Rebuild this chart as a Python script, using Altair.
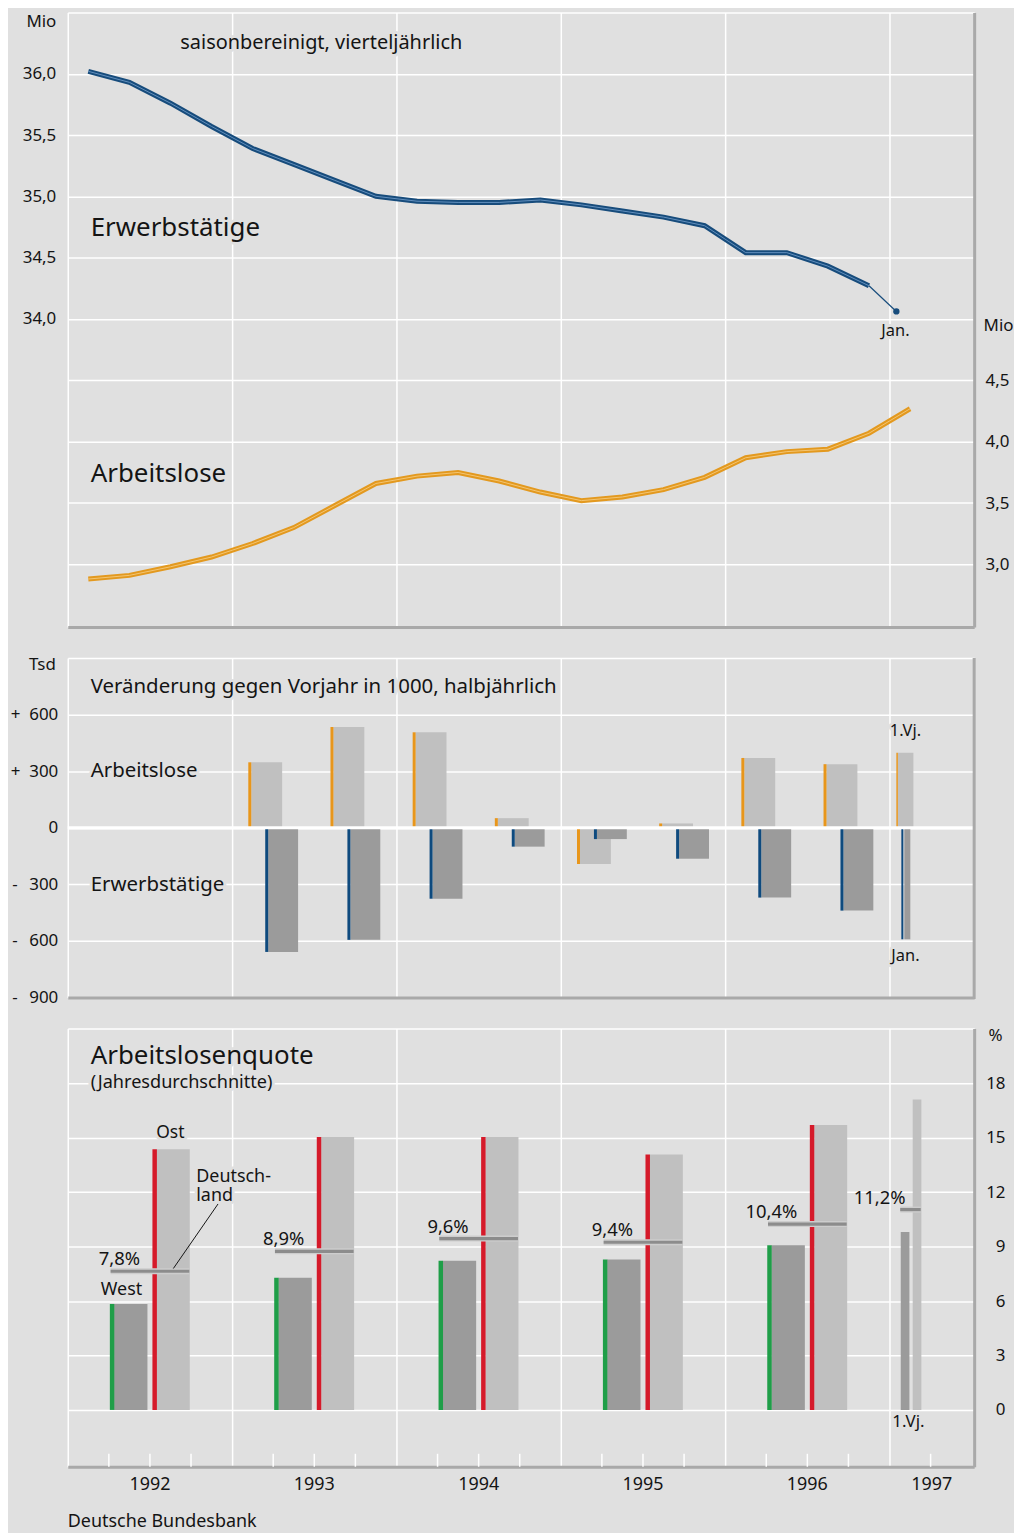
import altair as alt
import pandas as pd

# ---------------- colours / fonts ----------------
BG = "#e0e0e0"
FRAME = "#a9a9a9"
INK = "#141414"
FONT = "Noto Sans"
BLUE_D = "#174c7c"
BLUE_L = "#6390be"
ORANGE_D = "#e3991f"
ORANGE_L = "#f3c674"
LIGHT_BAR = "#c0c0c0"
DARK_BAR = "#9b9b9b"
STRIP_ORANGE = "#e8961b"
STRIP_BLUE = "#0e4a7e"
GREEN = "#1f9e48"
RED = "#d51a2a"

# ---------------- data ----------------
quarters = ["1992-Q1", "1992-Q2", "1992-Q3", "1992-Q4",
            "1993-Q1", "1993-Q2", "1993-Q3", "1993-Q4",
            "1994-Q1", "1994-Q2", "1994-Q3", "1994-Q4",
            "1995-Q1", "1995-Q2", "1995-Q3", "1995-Q4",
            "1996-Q1", "1996-Q2", "1996-Q3", "1996-Q4"]
erwerbstaetige = [36.02, 35.93, 35.76, 35.57, 35.39, 35.26, 35.13, 35.00,
                  34.96, 34.95, 34.95, 34.97, 34.93, 34.88, 34.83, 34.76,
                  34.54, 34.54, 34.43, 34.27]
erwerbstaetige_jan97 = 34.06

quarters_al = quarters + ["1997-Q1"]
arbeitslose = [2.88, 2.91, 2.98, 3.06, 3.17, 3.30, 3.48, 3.66,
               3.72, 3.75, 3.68, 3.59, 3.52, 3.55, 3.61, 3.71,
               3.87, 3.92, 3.94, 4.07, 4.27]

half_years = ["1993-H1", "1993-H2", "1994-H1", "1994-H2",
              "1995-H1", "1995-H2", "1996-H1", "1996-H2"]
chg_arbeitslose = [347, 534, 506, 51, -192, 23, 370, 337]
chg_erwerb = [-658, -594, -376, -100, -60, -164, -370, -439]
chg_arbeitslose_q1_97 = 397
chg_erwerb_jan97 = -591

years = ["1992-Y", "1993-Y", "1994-Y", "1995-Y", "1996-Y"]
quote_west = [5.84, 7.28, 8.22, 8.29, 9.07]
quote_ost = [14.36, 15.04, 15.04, 14.08, 15.70]
quote_de = [7.8, 8.9, 9.6, 9.4, 10.4]
quote_q1_97 = {"west": 9.81, "ost": 17.11, "de": 11.2}

year_labels = ["1992", "1993", "1994", "1995", "1996", "1997"]


def period_t(p):
    y, s = p.split("-")
    y = int(y)
    if s.startswith("Q"):
        return y + (int(s[1]) - 0.5) / 4
    if s.startswith("H"):
        return y + (int(s[1]) - 0.5) / 2
    if s == "Jan":
        return y + 0.5 / 12
    return y + 0.5


def pct(v):
    return f"{v:.1f}".replace(".", ",") + "%"


X_END = 1997.515
XS = alt.Scale(domain=[1992, X_END], nice=False, zero=False, padding=0)
XAXIS = alt.Axis(values=[1992, 1993, 1994, 1995, 1996, 1997], grid=True,
                 gridColor="white", gridWidth=1.5, labels=False, ticks=False,
                 domain=True, domainColor=FRAME, domainWidth=3, title=None)


def xenc(field="t"):
    return alt.X(f"{field}:Q", scale=XS, axis=XAXIS)


dummy = pd.DataFrame({"d": [0]})


def label(text, x, y, size, align="left", baseline="middle", halo=True, line_height=None):
    base = alt.Chart(dummy).encode(x=alt.value(x), y=alt.value(y))
    extra = {} if line_height is None else {"lineHeight": line_height}
    out = []
    if halo:
        out.append(base.mark_text(text=text, align=align, baseline=baseline,
                                  fontSize=size, font=FONT, color=BG,
                                  stroke=BG, strokeWidth=6, strokeJoin="round", **extra))
    out.append(base.mark_text(text=text, align=align, baseline=baseline,
                              fontSize=size, font=FONT, color=INK, **extra))
    return out


# ================= Panel 1: lines =================
W = 910
H1, H2, H3 = 617, 341, 440

erw_df = pd.DataFrame({"t": [period_t(p) for p in quarters], "v": erwerbstaetige})
erw_link_df = pd.DataFrame({"t": [period_t(quarters[-1]), period_t("1997-Jan")],
                            "v": [erwerbstaetige[-1], erwerbstaetige_jan97]})
erw_jan_df = erw_link_df.tail(1)
al_df = pd.DataFrame({"t": [period_t(p) for p in quarters_al], "v": arbeitslose})

YL_SCALE = alt.Scale(domain=[31.484, 36.5], nice=False, zero=False)
YR_SCALE = alt.Scale(domain=[2.488, 7.504], nice=False, zero=False)
YL_AXIS = alt.Axis(orient="left", values=[32 + 0.5 * i for i in range(10)], grid=True,
                   gridColor="white", gridWidth=1.5, domain=False, ticks=False,
                   labelPadding=12,
                   labelExpr="datum.value >= 34 && datum.value <= 36 ? replace(format(datum.value, '.1f'), '.', ',') : ''",
                   title="Mio", titleAngle=0, titleX=-27, titleY=1,
                   titleAlign="center", titleBaseline="top")
YR_AXIS = alt.Axis(orient="right", values=[3, 3.5, 4, 4.5], grid=False, domain=True,
                   domainColor=FRAME, domainWidth=3, ticks=False, labelPadding=11,
                   labelExpr="replace(format(datum.value, '.1f'), '.', ',')",
                   title="Mio", titleAngle=0, titleX=24, titleY=314,
                   titleAlign="center", titleBaseline="middle")


def yl(field="v"):
    return alt.Y(f"{field}:Q", scale=YL_SCALE, axis=YL_AXIS)


def yr(field="v"):
    return alt.Y(f"{field}:Q", scale=YR_SCALE, axis=YR_AXIS)


left = alt.layer(
    alt.Chart(erw_df).mark_line(color=BLUE_D, strokeWidth=5).encode(x=xenc(), y=yl()),
    alt.Chart(erw_df).mark_line(color=BLUE_L, strokeWidth=1).encode(x=xenc(), y=yl()),
    alt.Chart(erw_link_df).mark_line(color=BLUE_D, strokeWidth=1.2).encode(x=xenc(), y=yl()),
    alt.Chart(erw_jan_df).mark_circle(color=BLUE_D, opacity=1, size=40).encode(x=xenc(), y=yl()),
)
right = alt.layer(
    alt.Chart(al_df).mark_line(color=ORANGE_D, strokeWidth=5).encode(x=xenc(), y=yr()),
    alt.Chart(al_df).mark_line(color=ORANGE_L, strokeWidth=1).encode(x=xenc(), y=yr()),
)
p1_text = (label("saisonbereinigt, vierteljährlich", 113, 31, 20)
           + label("Erwerbstätige", 23, 216, 26)
           + label("Arbeitslose", 23, 463, 26)
           + label("Jan.", 831, 320, 16.5, align="center"))
p1 = alt.layer(left, right, *p1_text).resolve_scale(y="independent").properties(width=W, height=H1)

# ================= Panel 2: half-yearly changes =================
hy_df = pd.DataFrame({"t": [period_t(p) for p in half_years],
                      "al": chg_arbeitslose, "erw": chg_erwerb})
al97_df = pd.DataFrame({"t": [period_t("1997-Q1")], "al": [chg_arbeitslose_q1_97]})
erw97_df = pd.DataFrame({"t": [period_t("1997-Jan")], "erw": [chg_erwerb_jan97]})

Y2S = alt.Scale(domain=[-900, 900], nice=False, zero=False)
Y2_AXIS = alt.Axis(orient="left", values=[-900, -600, -300, 0, 300, 600, 900], grid=True,
                   gridColor="white", gridWidth=1.5, domain=False, ticks=False,
                   labelPadding=10,
                   labelExpr="datum.value >= 900 ? '' : datum.value > 0 ? '+\u00a0\u00a0' + datum.value : datum.value < 0 ? '-\u00a0\u00a0\u2009' + (-datum.value) : '0'",
                   title="Tsd", titleAngle=0, titleX=-26, titleY=7,
                   titleAlign="center", titleBaseline="middle")


def y2(field):
    return alt.Y(f"{field}:Q", scale=Y2S, axis=Y2_AXIS)


def hbar(df, field, color, size, off):
    return alt.Chart(df).mark_bar(size=size, xOffset=off, color=color).encode(
        x=xenc(), y=y2(field), y2=alt.datum(0))


p2_layers = [
    hbar(hy_df, "al", LIGHT_BAR, 31, -6.5),
    hbar(hy_df, "al", STRIP_ORANGE, 3, -23.5),
    hbar(al97_df, "al", LIGHT_BAR, 15.5, -4.4),
    hbar(al97_df, "al", STRIP_ORANGE, 1.5, -13),
    hbar(hy_df, "erw", DARK_BAR, 30, 10),
    hbar(hy_df, "erw", STRIP_BLUE, 3, -6.5),
    hbar(erw97_df, "erw", DARK_BAR, 6, 11),
    hbar(erw97_df, "erw", STRIP_BLUE, 2, 6),
    alt.Chart(dummy).mark_rule(color="white", strokeWidth=3).encode(
        y=alt.YDatum(0, scale=Y2S, axis=Y2_AXIS)),
    alt.Chart(dummy).mark_rule(color=FRAME, strokeWidth=3).encode(
        x=alt.value(W), y=alt.value(0), y2=alt.value(H2 + 1.5)),
]
p2_text = (label("Veränderung gegen Vorjahr in 1000, halbjährlich", 23, 29, 20.5)
           + label("Arbeitslose", 23, 114, 20.5)
           + label("Erwerbstätige", 23, 228, 20.5)
           + label("1.Vj.", 841, 73, 16.5, align="center")
           + label("Jan.", 841, 299, 16.5, align="center"))
p2 = alt.layer(*p2_layers, *p2_text).properties(width=W, height=H2)

# ================= Panel 3: unemployment rate =================
yr_df = pd.DataFrame({"t": [period_t(y) for y in years], "west": quote_west,
                      "ost": quote_ost, "de": quote_de,
                      "lab": [pct(v) for v in quote_de]})
q97_df = pd.DataFrame({"t": [period_t("1997-Q1")], "west": [quote_q1_97["west"]],
                       "ost": [quote_q1_97["ost"]], "de": [quote_q1_97["de"]],
                       "lab": [pct(quote_q1_97["de"])]})
yl_df = pd.DataFrame({"t": [y + 0.5 for y in range(1992, 1997)] + [(1997 + X_END) / 2],
                      "s": year_labels})
qtick_df = pd.DataFrame({"t": [y + q / 4 for y in range(1992, 1997) for q in (1, 2, 3)] + [1997.25]})

Y3S = alt.Scale(domain=[-3.13, 21.02], nice=False, zero=False)
Y3_AXIS = alt.Axis(orient="right", values=[0, 3, 6, 9, 12, 15, 18, 21], grid=True,
                   gridColor="white", gridWidth=1.5, domain=True, domainColor=FRAME,
                   domainWidth=3, ticks=False, labelPadding=31, labelAlign="right",
                   labelExpr="datum.value > 18 ? '' : datum.value",
                   title="%", titleAngle=0, titleX=21, titleY=7,
                   titleAlign="center", titleBaseline="middle")


def y3(field):
    return alt.Y(f"{field}:Q", scale=Y3S, axis=Y3_AXIS)


def qbar(df, field, color, size, off):
    return alt.Chart(df).mark_bar(size=size, xOffset=off, color=color).encode(
        x=xenc(), y=y3(field), y2=alt.datum(0))


def qtick(df, size, off):
    return [
        alt.Chart(df).mark_tick(orient="horizontal", size=size, thickness=6,
                                xOffset=off, yOffset=2.9, color="#cdcdcd", opacity=1).encode(
            x=xenc(), y=y3("de")),
        alt.Chart(df).mark_tick(orient="horizontal", size=size, thickness=3.2,
                                xOffset=off, yOffset=2.9, color="#8c8c8c", opacity=1).encode(
            x=xenc(), y=y3("de")),
    ]


p3_layers = [
    alt.Chart(qtick_df).mark_rule(color="white", strokeWidth=1.5).encode(
        x=xenc(), y=alt.value(H3 - 13), y2=alt.value(H3)),
    qbar(yr_df, "west", DARK_BAR, 33.5, -19.25),
    qbar(yr_df, "west", GREEN, 4.5, -38),
    qbar(yr_df, "ost", LIGHT_BAR, 33, 23.5),
    qbar(yr_df, "ost", RED, 4.5, 4.75),
    qbar(q97_df, "west", DARK_BAR, 8.7, -5),
    qbar(q97_df, "ost", LIGHT_BAR, 8.7, 7),
    *qtick(yr_df, 79, 0),
    *qtick(q97_df, 20.6, 0.4),
    alt.Chart(yr_df).mark_text(align="right", baseline="alphabetic", dx=-10, dy=-3,
                               fontSize=18.5, font=FONT, color=INK).encode(
        x=xenc(), y=y3("de"), text="lab:N"),
    alt.Chart(q97_df).mark_text(align="right", baseline="alphabetic", dx=-4.6, dy=-3,
                                fontSize=18.5, font=FONT, color=INK).encode(
        x=xenc(), y=y3("de"), text="lab:N"),
    alt.Chart(dummy).mark_rule(color=INK, strokeWidth=1).encode(
        x=alt.value(106), y=alt.value(241), x2=alt.value(151), y2=alt.value(176)),
    alt.Chart(yl_df).mark_text(align="center", baseline="middle", fontSize=18,
                               font=FONT, color=INK).encode(
        x=xenc(), y=alt.value(H3 + 18), text="s:N"),
]
p3_text = (label("Arbeitslosenquote", 23, 28, 26)
           + label("(Jahresdurchschnitte)", 23, 55, 18.2)
           + label("Ost", 103, 105, 17.5, align="center")
           + label("West", 54, 263, 18, align="center")
           + label(["Deutsch-", "land"], 129, 154, 18, baseline="alphabetic", line_height=19)
           + label("1.Vj.", 844, 395, 17, align="center")
           + label("Deutsche Bundesbank", 0, H3 + 56, 18, halo=False))
p3 = alt.layer(*p3_layers, *p3_text).properties(width=W, height=H3)

chart = alt.vconcat(p1, p2, p3, spacing=31, bounds="flush").properties(
    background=BG,
    padding={"left": 2, "top": 1.5, "right": 0, "bottom": 0},
).configure_view(stroke=None).configure_axis(
    labelFont=FONT, titleFont=FONT, labelColor=INK, titleColor=INK,
    labelFontSize=17, titleFontSize=17, titleFontWeight="normal",
)

chart.save("out.html", embed_options={"renderer": "svg", "actions": False})
